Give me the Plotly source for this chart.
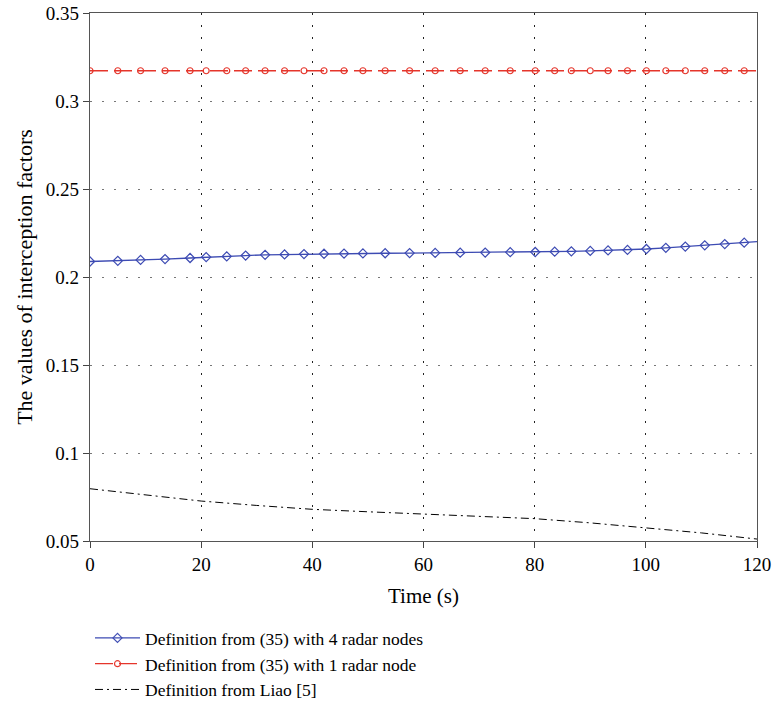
import plotly.graph_objects as go

# Marker sample times (s)
t_markers = [0, 5.0, 9.1, 13.5, 18.0, 20.9, 24.6, 28.0, 31.5, 35.0, 38.5, 42.1, 45.7,
             49.1, 53.1, 57.5, 62.1, 66.6, 71.1, 75.6, 80.1, 83.6, 86.6, 90.0, 93.2,
             96.7, 100.1, 103.6, 107.1, 110.6, 114.2, 117.7, 120]

four_nodes = [0.2088, 0.2092, 0.2097, 0.2102, 0.2108, 0.2113, 0.2117, 0.2122, 0.2126,
              0.2128, 0.2130, 0.2132, 0.2133, 0.2134, 0.2135, 0.2136, 0.2137, 0.2138,
              0.2139, 0.2141, 0.2142, 0.2144, 0.2146, 0.2148, 0.2151, 0.2154, 0.2159,
              0.2166, 0.2173, 0.2180, 0.2187, 0.2195, 0.2201]

one_node = [0.3172] * len(t_markers)

t_liao = [0, 10, 20, 30, 40, 50, 60, 70, 80, 90, 100, 110, 120]
liao = [0.0797, 0.0760, 0.0727, 0.0702, 0.0680, 0.0666, 0.0653, 0.0640, 0.0627,
        0.0603, 0.0576, 0.0546, 0.0511]

x_ticks = [0, 20, 40, 60, 80, 100, 120]
y_ticks = [0.05, 0.1, 0.15, 0.2, 0.25, 0.3, 0.35]
y_tick_text = ["0.05", "0.1", "0.15", "0.2", "0.25", "0.3", "0.35"]

names = ["Definition from (35) with 4 radar nodes",
         "Definition from (35) with 1 radar node",
         "Definition from Liao [5]"]

BLUE = "#3d4bb3"
RED = "#e5352b"
FONT = "Liberation Serif"

n_last = len(t_markers) - 1
fig = go.Figure()
fig.add_trace(go.Scatter(
    x=t_markers, y=four_nodes, mode="lines+markers", name=names[0],
    line=dict(color=BLUE, width=1.3),
    marker=dict(symbol="diamond-open", size=7, color=BLUE, line=dict(width=1.2),
                opacity=[1] * n_last + [0]),
))
fig.add_trace(go.Scatter(
    x=t_markers, y=one_node, mode="lines+markers", name=names[1],
    line=dict(color=RED, width=1.3, dash="18px,6px"),
    marker=dict(symbol="circle-open", size=6, color=RED, line=dict(width=1.2),
                opacity=[1] * n_last + [0]),
))
fig.add_trace(go.Scatter(
    x=t_liao, y=liao, mode="lines", name=names[2],
    line=dict(color="black", width=1, dash="8px,4px,2px,4px"),
))

fig.update_layout(
    width=775, height=708,
    margin=dict(l=90, r=18, t=13, b=167, autoexpand=False),
    paper_bgcolor="white", plot_bgcolor="white",
    font=dict(family=FONT, size=19, color="black"),
    showlegend=True,
    legend=dict(x=0.0, y=0.1242, xref="paper", yref="container",
                xanchor="left", yanchor="top", itemwidth=45,
                font=dict(family=FONT, size=17.5), tracegroupgap=0,
                bgcolor="rgba(0,0,0,0)"),
)
fig.update_xaxes(
    range=[0, 120], tickvals=x_ticks, ticks="outside", ticklen=6,
    tickcolor="#444", showline=True, linecolor="#555", linewidth=1.3, mirror=True,
    showgrid=True, gridcolor="#222", griddash="2px,10px", gridwidth=1, zeroline=False,
    automargin=False,
    title=dict(text="Time (s)", font=dict(family=FONT, size=21), standoff=14),
    tickfont=dict(family=FONT, size=19),
)
fig.update_yaxes(
    range=[0.05, 0.35], tickvals=y_ticks, ticktext=y_tick_text, ticks="outside",
    ticklen=6, tickcolor="#444", showline=True, linecolor="#555", linewidth=1.3,
    mirror=True, showgrid=True, gridcolor="#777", griddash="2px,10px", gridwidth=1,
    zeroline=False, automargin=False,
    title=dict(text="The values of interception factors",
               font=dict(family=FONT, size=22), standoff=7),
    tickfont=dict(family=FONT, size=19),
)

fig.write_html("out.html")
